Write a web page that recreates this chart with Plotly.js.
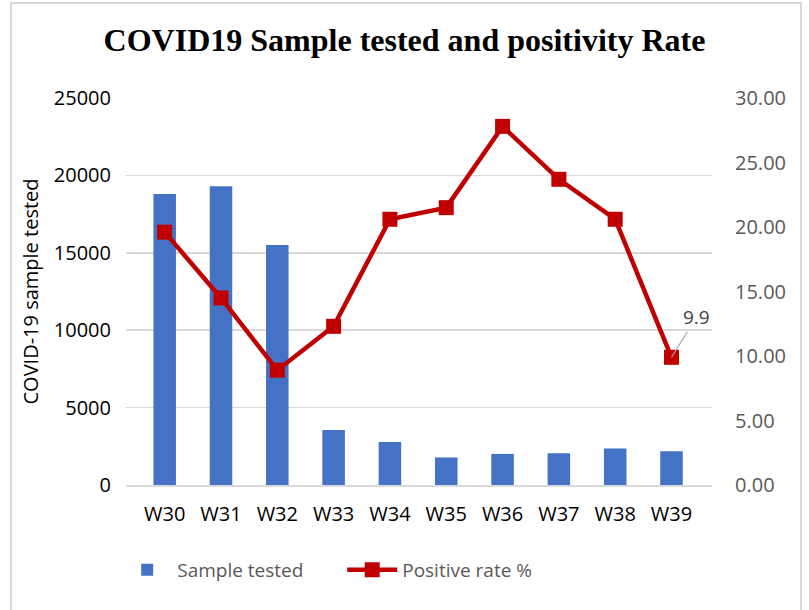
<!DOCTYPE html>
<html>
<head>
<meta charset="utf-8">
<script src="https://cdn.plot.ly/plotly-3.0.1.min.js"></script>
<style>
html,body{margin:0;padding:0;background:#fff;overflow:hidden;}
#wrap{position:relative;width:809px;height:610px;}
#chart{width:809px;height:610px;}
#frame{position:absolute;left:10px;top:2px;width:792px;height:640px;border:2px solid #d9d9d9;pointer-events:none;box-sizing:border-box;}
</style>
</head>
<body>
<div id="wrap"><div id="chart"></div><div id="frame"></div></div>
<script>
const weeks = ["W30","W31","W32","W33","W34","W35","W36","W37","W38","W39"];
const sampleTested = [18800, 19300, 15500, 3560, 2770, 1780, 2010, 2050, 2360, 2180];
const positiveRate = [19.6, 14.5, 8.9, 12.3, 20.6, 21.5, 27.8, 23.7, 20.6, 9.9];
const leftTicks = [0, 5000, 10000, 15000, 20000, 25000];
const rightTicks = [0, 5, 10, 15, 20, 25, 30];
const labelledPoint = 9; // W39

const font = "'Open Sans', sans-serif";

const traces = [
  {
    type: "bar",
    name: "Sample tested",
    x: weeks,
    y: sampleTested,
    marker: {color: "#4472c4"},
    yaxis: "y"
  },
  {
    type: "scatter",
    mode: "lines+markers",
    name: "Positive rate %",
    x: weeks,
    y: positiveRate,
    yaxis: "y2",
    line: {color: "#c00000", width: 4.5},
    marker: {symbol: "square", size: 15, color: "#c00000"}
  }
];

const layout = {
  width: 809,
  height: 610,
  margin: {l: 126, r: 97, t: 98, b: 125},
  paper_bgcolor: "#ffffff",
  plot_bgcolor: "#ffffff",
  bargap: 0.6,
  showlegend: true,
  title: {
    text: "<b>COVID19 Sample tested and positivity Rate</b>",
    font: {family: "'Liberation Serif', 'Times New Roman', serif", size: 32, color: "#000000"},
    x: 0.5, xanchor: "center", y: 0.934, yanchor: "middle"
  },
  xaxis: {
    type: "category",
    tickfont: {family: font, size: 20, color: "#000000"},
    showgrid: false,
    showline: true,
    linecolor: "#d9d9d9",
    linewidth: 1.5,
    ticks: "",
    ticklabelstandoff: 10,
    zeroline: false
  },
  yaxis: {
    range: [0, 25000],
    tickvals: leftTicks,
    ticktext: leftTicks.map(String),
    tickfont: {family: font, size: 20, color: "#000000"},
    showgrid: true,
    gridcolor: "#d9d9d9",
    gridwidth: 1.5,
    zeroline: false,
    showline: false,
    ticks: "",
    ticklabelstandoff: 14,
    title: {text: "COVID-19 sample tested", font: {family: font, size: 20, color: "#000000"}, standoff: 9}
  },
  yaxis2: {
    range: [0, 30],
    tickvals: rightTicks,
    ticktext: rightTicks.map(v => v.toFixed(2)),
    tickfont: {family: font, size: 20, color: "#595959"},
    overlaying: "y",
    side: "right",
    showgrid: false,
    zeroline: false,
    showline: false,
    ticks: "",
    ticklabelstandoff: 22
  },
  legend: {
    orientation: "h",
    x: -0.015, xanchor: "left",
    y: -0.17, yanchor: "top",
    font: {family: font, size: 19, color: "#595959"},
    itemwidth: 50,
    entrywidth: 160,
    entrywidthmode: "pixels",
    tracegroupgap: 0
  },
  annotations: [
    {
      x: weeks[labelledPoint],
      y: positiveRate[labelledPoint],
      xref: "x",
      yref: "y2",
      text: String(positiveRate[labelledPoint]),
      showarrow: true,
      arrowhead: 0,
      arrowwidth: 1.2,
      arrowcolor: "#a6a6a6",
      ax: 25,
      ay: -40,
      standoff: 0,
      font: {family: font, size: 19, color: "#404040"}
    }
  ]
};

Plotly.newPlot("chart", traces, layout, {displayModeBar: false, staticPlot: true});
</script>
</body>
</html>
